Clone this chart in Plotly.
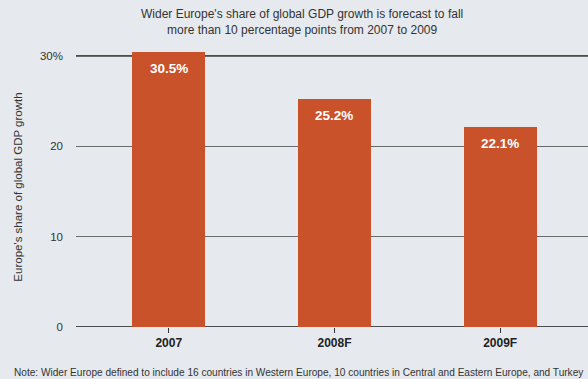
import plotly.graph_objects as go

categories = ["2007", "2008F", "2009F"]
values = [30.5, 25.2, 22.1]
value_labels = ["30.5%", "25.2%", "22.1%"]
tick_vals = [0, 10, 20, 30]
tick_text = ["0", "10", "20", "30%"]

BG = "#e6eaee"
BAR = "#c9522a"
FONT = "Liberation Sans, Arial, sans-serif"

fig = go.Figure()
fig.add_trace(go.Bar(
    x=categories, y=values, width=0.44,
    marker=dict(color=BAR, line=dict(width=0)),
    hoverinfo="skip",
))

for i, (v, t) in enumerate(zip(values, value_labels)):
    fig.add_annotation(
        x=i, y=v, text=t, showarrow=False, yanchor="top", yshift=-7,
        font=dict(color="white", size=13.5, family=FONT, weight="bold"),
    )

fig.update_layout(
    width=588, height=379,
    paper_bgcolor=BG, plot_bgcolor=BG,
    margin=dict(l=76, r=0, t=47, b=52),
    showlegend=False,
    font=dict(family=FONT, color="#333333", size=11),
    xaxis=dict(
        type="category",
        range=[-0.56, 2.53], showgrid=False, zeroline=False, showline=False,
        ticks="outside", ticklen=5, tickcolor="#333333", tickwidth=1,
        tickfont=dict(size=12, family=FONT, color="#222222", weight="bold"),
    ),
    yaxis=dict(
        range=[0, 31], tickvals=tick_vals, ticktext=tick_text,
        showgrid=True, gridcolor="#6a6a6a", gridwidth=1,
        zeroline=False, showline=False, ticks="", ticklabelstandoff=12,
        tickfont=dict(size=11.5, family=FONT, color="#333333"),
        title=dict(text="Europe's share of global GDP growth", standoff=14,
                   font=dict(size=11.5, family=FONT, color="#333333")),
    ),
    bargap=0,
)

# title as annotation
fig.add_annotation(
    text="Wider Europe's share of global GDP growth is forecast to fall<br>more than 10 percentage points from 2007 to 2009",
    xref="paper", yref="paper", x=(302 - 76) / 512, y=1 + (47 - 5) / 280,
    xanchor="center", yanchor="top", showarrow=False, align="center",
    font=dict(size=12, color="#333333", family=FONT),
)

# darker lines at 0 and 30
for yv in (0, 30):
    fig.add_shape(type="line", xref="paper", yref="y", x0=0, x1=1, y0=yv, y1=yv,
                  line=dict(color="#1a1a1a", width=1.5), layer="below")

fig.add_annotation(
    text="Note: Wider Europe defined to include 16 countries in Western Europe, 10 countries in Central and Eastern Europe, and Turkey",
    xref="paper", yref="paper", x=(12 - 76) / 512, y=-(365 - 327) / 280,
    xanchor="left", yanchor="top",
    showarrow=False, font=dict(size=10.1, family=FONT, color="#333333"),
)

fig.write_html(
    "out.html",
    config={"displayModeBar": False},
    post_script="document.body.style.margin='0';document.body.style.background='#e6eaee';",
)
